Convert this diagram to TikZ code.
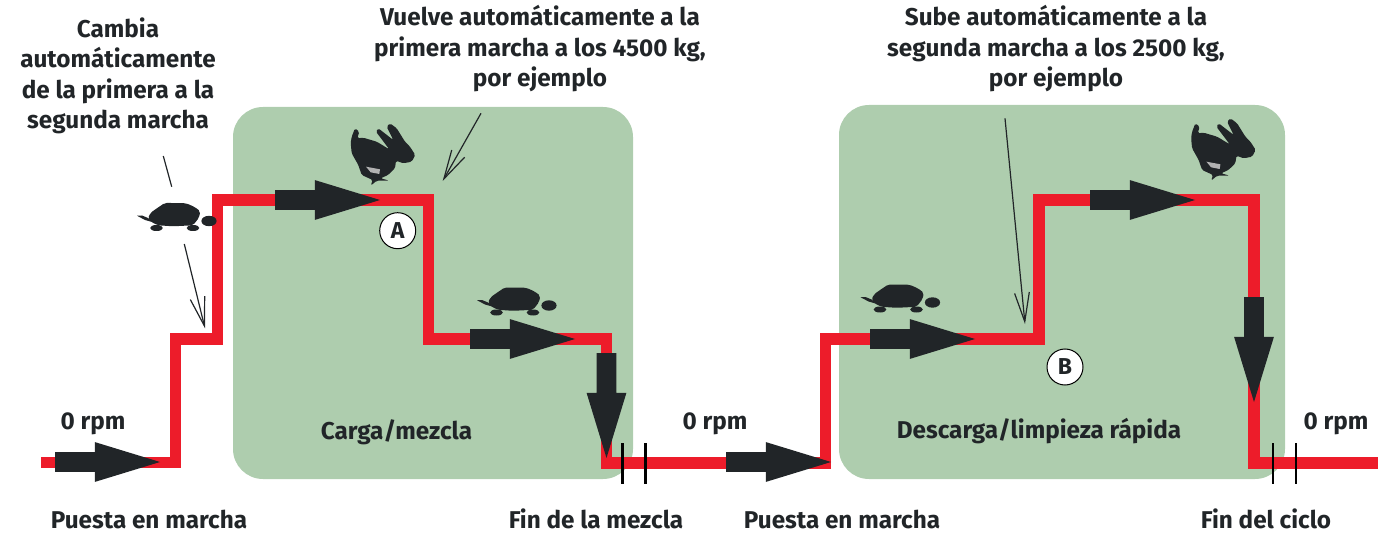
\documentclass[tikz,border=0pt]{standalone}
\usepackage{fontspec}
\setmainfont[Numbers=Lining]{Fira Sans}
\usepackage{xcolor}
\usetikzlibrary{arrows.meta}
\usetikzlibrary{shapes.arrows}
\definecolor{zonegreen}{HTML}{AECDAE}
\definecolor{trackred}{HTML}{ED1C2A}
\definecolor{inkdark}{HTML}{212528}
\tikzset{
  caption/.style={align=center,text=inkdark,font=\fontsize{12.15}{15.2}\selectfont\bfseries,inner sep=0pt},
  zone/.style={fill=zonegreen,rounded corners=15pt,inner sep=0pt},
  track/.style={draw=trackred,line width=5.75pt,miter limit=4},
  fatarrow/.style={single arrow,fill=inkdark,inner xsep=0pt,inner ysep=4.75pt,outer sep=0pt,minimum height=52.5pt,
    single arrow head extend=5pt,single arrow tip angle=34,anchor=tip},
  callout/.style={draw=inkdark,line width=0.6pt},
  calloutarrow/.style={callout,-{Straight Barb[length=14.5pt,width=7.4pt,inset=0pt]}},
  tick/.style={draw=black,line width=1.25pt},
  badge/.style={circle,draw=black,line width=0.5pt,fill=white,minimum size=18pt,inner sep=0pt,text=inkdark,font=\fontsize{11.5}{11.5}\selectfont\bfseries},
  turtle/.pic={
    \fill[inkdark,rounded corners=1pt] (-25,1.7) -- (-22.7,-4) -- (-16.7,-8.3) -- (-8.3,-14) -- (0,-14) -- (13.3,-13.7) -- (21.7,-10) -- (27.3,-5.7) -- (26,0.7) -- (20,8.3) -- (0,9.3) -- (-15,8.3) -- (-21.7,5) -- cycle;
    \fill[inkdark] (-36,-1.3) -- (-31,-1.5) -- (-25,1) -- (-21,5) -- (-28,3) -- cycle;
    \fill[inkdark] (-16.5,11) ellipse (3.2pt and 1.5pt);
    \fill[inkdark] (20,11) ellipse (3.2pt and 1.5pt);
    \fill[inkdark] (36,4) ellipse (3.8pt and 2.6pt);
  },
  rabbit/.pic={
    \fill[inkdark,rounded corners=0.8pt] (-28.3,-23.3) -- (-25,-31.7) -- (-20.7,-28.3) -- (-22.7,-21.7) -- (-16.7,-22.3) -- (-3.3,-18.3) -- (9.3,-10.7) -- (-4,-28.3) -- (-1.7,-31.7) -- (13.3,-20) -- (6.7,-33.3) -- (10,-36.7) -- (16.7,-31.7) -- (25,-18.3) -- (30,-13.3) -- (35.3,-5) -- (31.7,1.7) -- (23.3,3.3) -- (16,0.7) -- (15,8.3) -- (8,15) -- (0.7,18.3) -- (9.3,20.7) -- (-3.3,20.7) -- (-9.3,25.7) -- (-7.3,20) -- (-18.3,15) -- (-21.7,5) -- (-28.3,-6.7) -- (-29.3,-17) -- cycle;
    \fill[black!30] (-14,6.7) -- (0,9.3) -- (-0.7,14) -- (-9.3,12.3) -- cycle;
  }
}
\begin{document}
\begin{tikzpicture}[x=0.5pt,y=-0.5pt]
\useasboundingbox (0,0) rectangle (1394,535);

\node[zone,minimum width=200pt,minimum height=186pt] (load) at (433,293) {};
\node[zone,minimum width=223pt,minimum height=187pt] (unload) at (1062,292) {};

% red line
\coordinate (start) at (41,462.5);
\coordinate (r1) at (175.5,462.5);
\coordinate (r2) at (175.5,339);
\coordinate (r3) at (217.5,339);
\coordinate (r4) at (217.5,200);
\coordinate (r5) at (428.5,200);
\coordinate (r6) at (428.5,339);
\coordinate (r7) at (606.5,339);
\coordinate (r8) at (606.5,463);
\coordinate (r9) at (825.5,463);
\coordinate (r10) at (825.5,339);
\coordinate (r11) at (1039,339);
\coordinate (r12) at (1039,200);
\coordinate (r13) at (1254,200);
\coordinate (r14) at (1254,463);
\coordinate (end) at (1378,463);
\draw[track] (start) -- (r1) -- (r2) -- (r3) -- (r4) -- (r5) -- (r6) -- (r7) -- (r8) -- (r9) -- (r10) -- (r11) -- (r12) -- (r13) -- (r14) -- (end);

% push arrows
\node[fatarrow] (push1) at (160,462) {};
\node[fatarrow] (push2) at (380,200) {};
\node[fatarrow] (push3) at (575,339) {};
\node[fatarrow,rotate=-90] (push4) at (606.5,458) {};
\node[fatarrow] (push5) at (831,462) {};
\node[fatarrow] (push6) at (975,339) {};
\node[fatarrow] (push7) at (1195,200) {};
\node[fatarrow,rotate=-90] (push8) at (1254,402) {};

% ticks
\foreach \x/\n in {622.7/ta,645.3/tb,1273/tc,1296/td} {
  \coordinate (\n1) at (\x,443);
  \coordinate (\n2) at (\x,484);
  \draw[tick] (\n1) -- (\n2);
}

% animals
\pic at (173,217) {turtle};
\pic at (513,301.5) {turtle};
\pic at (896.5,298.5) {turtle};
\pic at (380,160) {rabbit};
\pic at (1220.4,155) {rabbit};

% callouts
\coordinate (c1a) at (163.3,156);
\coordinate (c1b) at (171.7,186.7);
\coordinate (c2a) at (184.3,244);
\coordinate (c2b) at (205,328.3);
\coordinate (c3a) at (481,113.3);
\coordinate (c3b) at (442.7,181);
\coordinate (c4a) at (1005,118.3);
\coordinate (c4b) at (1025,324);
\draw[callout] (c1a) -- (c1b);
\draw[calloutarrow] (c2a) -- (c2b);
\draw[calloutarrow] (c3a) -- (c3b);
\draw[calloutarrow] (c4a) -- (c4b);

\node[badge] (A) at (397.7,230.7) {A};
\node[badge] (B) at (1065,367) {B};

% texts
\node[caption] (change) at (118,76) {Cambia\\automáticamente\\de la primera a la\\segunda marcha};
\node[caption] (back) at (540,48.7) {Vuelve automáticamente a la\\primera marcha a los 4500 kg,\\por ejemplo};
\node[caption] (up) at (1056,48.7) {Sube automáticamente a la\\segunda marcha a los 2500 kg,\\por ejemplo};
\node[caption] (rpma) at (93,424) {0 rpm};
\node[caption] (rpmb) at (715,424) {0 rpm};
\node[caption] (rpmc) at (1336,424) {0 rpm};
\node[caption] (mix) at (396.5,432) {Carga/mezcla};
\node[caption] (clean) at (1039,431) {Descarga/limpieza rápida};
\node[caption] (starta) at (149,519) {Puesta en marcha};
\node[caption] (startb) at (842,519) {Puesta en marcha};
\node[caption] (endmix) at (596,519) {Fin de la mezcla};
\node[caption] (endcycle) at (1266,519) {Fin del ciclo};
\end{tikzpicture}
\end{document}
